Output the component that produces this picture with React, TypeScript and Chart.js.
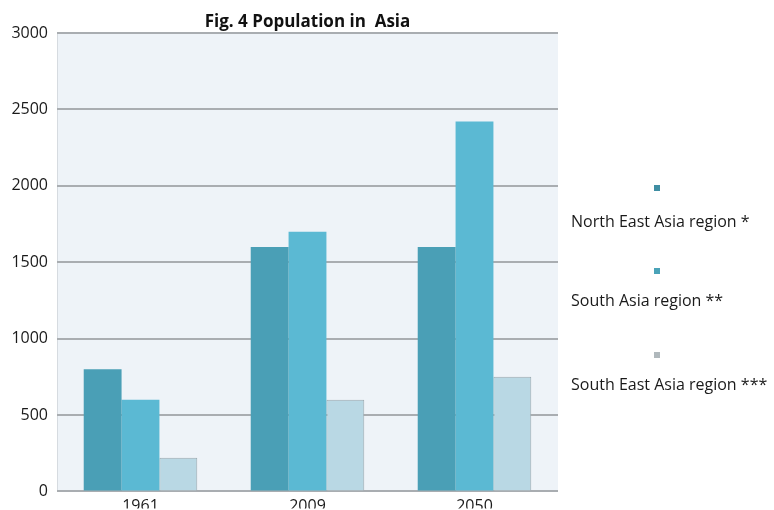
import React, { useEffect, useRef } from "react";
import { Chart, registerables } from "chart.js";

Chart.register(...registerables);

const categories = ["1961", "2009", "2050"];
const seriesNames = ["North East Asia region *", "South Asia region **", "South East Asia region ***"];
const northEast = [800, 1600, 1600];
const southAsia = [600, 1700, 2420];
const southEast = [220, 600, 750];
const yTicks = [0, 500, 1000, 1500, 2000, 2500, 3000];
const titleText = "Fig. 4 Population in  Asia";

const FONT = "'Open Sans', 'Noto Sans', sans-serif";

const plotBg = {
  id: "plotBg",
  beforeDraw(chart: any) {
    const { ctx, chartArea } = chart;
    ctx.save();
    ctx.fillStyle = "#eef3f8";
    ctx.fillRect(chartArea.left, chartArea.top, chartArea.right - chartArea.left, chartArea.bottom - chartArea.top);
    ctx.strokeStyle = "#d6dbe0";
    ctx.lineWidth = 1;
    ctx.beginPath();
    ctx.moveTo(chartArea.left + 0.5, chartArea.top);
    ctx.lineTo(chartArea.left + 0.5, chartArea.bottom);
    ctx.stroke();
    ctx.restore();
  },
};

const sideLegend = {
  id: "sideLegend",
  afterDraw(chart: any) {
    const { ctx } = chart;
    const cx = 657;
    const textX = 571;
    const markerY = [188, 271, 355];
    const textY = [222, 301, 385];
    ctx.save();
    chart.data.datasets.forEach((ds: any, i: number) => {
      ctx.fillStyle = i === 2 ? "#b0b8bc" : i === 0 ? "#3f8ea3" : "#4aa3b8";
      ctx.fillRect(cx - 3, markerY[i] - 3, 6, 6);
      ctx.fillStyle = "#1a1a1a";
      ctx.font = `16px ${FONT}`;
      ctx.textAlign = "left";
      ctx.textBaseline = "middle";
      ctx.fillText(ds.label, textX, textY[i]);
    });
    ctx.restore();
  },
};

export default function App() {
  const ref = useRef<HTMLCanvasElement | null>(null);
  useEffect(() => {
    if (!ref.current) return;
    const chart = new Chart(ref.current, {
      type: "bar",
      data: {
        labels: categories,
        datasets: [
          { label: seriesNames[0], data: northEast, backgroundColor: "#4a9fb6", borderWidth: 0 },
          { label: seriesNames[1], data: southAsia, backgroundColor: "#5bb9d3", borderWidth: 0 },
          { label: seriesNames[2], data: southEast, backgroundColor: "#b9d8e4", borderColor: "#9aa8ae", borderWidth: 1 },
        ],
      },
      options: {
        responsive: false,
        animation: false,
        layout: { padding: { left: 0, right: 216, top: 0, bottom: 0 } },
        datasets: { bar: { categoryPercentage: 0.68, barPercentage: 1.0 } },
        plugins: {
          legend: { display: false },
          tooltip: { enabled: false },
          title: {
            display: true,
            text: titleText,
            fullSize: false,
            color: "#111",
            font: { family: FONT, size: 17, weight: "bold", lineHeight: 1.2 },
            padding: { top: 12, bottom: 0.6 },
          },
        },
        scales: {
          x: {
            grid: { display: false, drawTicks: false },
            border: { display: false },
            ticks: { color: "#1a1a1a", font: { family: FONT, size: 16 }, padding: 5, maxRotation: 0 },
            afterFit(scale: any) {
              scale.height = 17;
            },
          },
          y: {
            min: 0,
            max: 3000,
            afterBuildTicks(scale: any) {
              scale.ticks = yTicks.map((v) => ({ value: v }));
            },
            grid: { color: "#a9adb1", lineWidth: 2, drawTicks: false },
            border: { display: false },
            ticks: {
              color: "#1a1a1a",
              font: { family: FONT, size: 16 },
              padding: 9,
              callback: (v: any) => String(v),
            },
            afterFit(scale: any) {
              scale.width = 57;
            },
          },
        },
      },
      plugins: [plotBg, sideLegend],
    });
    return () => chart.destroy();
  }, []);
  return (
    <div style={{ position: "fixed", left: 0, top: 0, width: 774, height: 510, background: "#fff" }}>
      <canvas ref={ref} width={774} height={510} style={{ width: 774, height: 510, display: "block" }} />
    </div>
  );
}
